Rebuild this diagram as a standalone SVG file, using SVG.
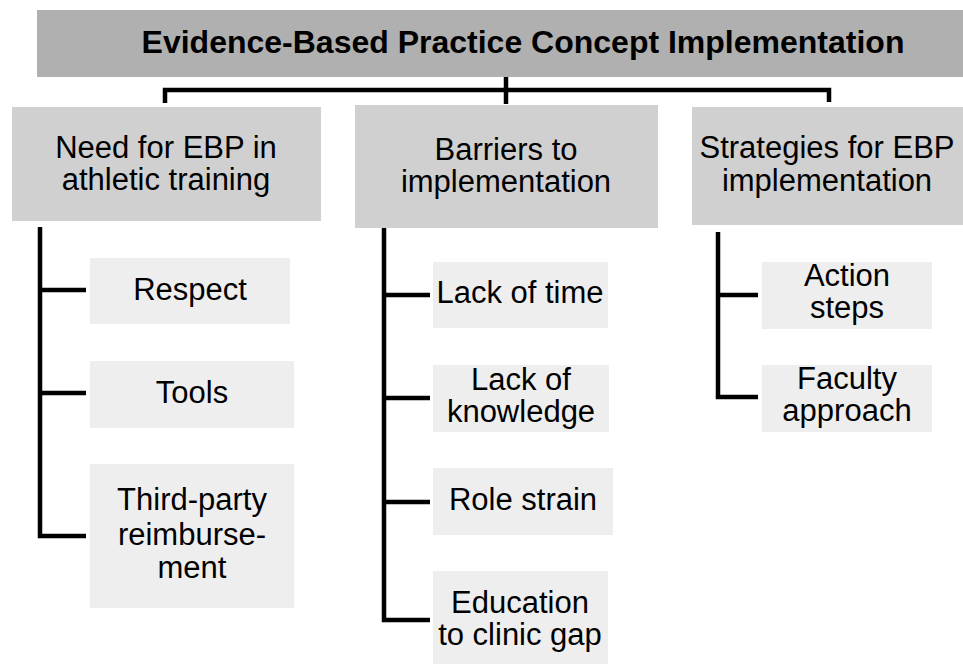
<svg xmlns="http://www.w3.org/2000/svg" width="963" height="664" viewBox="0 0 963 664">
<style>
text{font-family:"Liberation Sans",Arial,sans-serif;fill:#000;text-anchor:middle}
.t{font-size:32px;font-weight:bold}
.b{font-size:31px}
.top{fill:#b0b0b0}
.l1{fill:#d0d0d0}
.l2{fill:#eeeeee}
.c{stroke:#000;stroke-width:4.5;fill:none;stroke-linejoin:miter}
</style>
<rect width="963" height="664" fill="#fff"/>
<g id="connectors">
<path class="c" d="M165,103 V90 H829 V102"/>
<path class="c" d="M506,77 V104"/>
<path class="c" d="M40,227 V536 H86 M40,290 H86 M40,393 H86"/>
<path class="c" d="M384,227 V620 H430 M384,295 H430 M384,398 H430 M384,502 H430"/>
<path class="c" d="M718,232 V397 H758 M718,295 H758"/>
</g>
<g id="title"><rect class="top" x="37" y="10" width="926" height="67"/><text class="t" x="523" y="53">Evidence-Based Practice Concept Implementation</text></g>
<g id="need"><rect class="l1" x="12" y="107" width="309" height="114"/><text class="b" x="166" y="158">Need for EBP in</text><text class="b" x="166" y="190">athletic training</text></g>
<g id="barriers"><rect class="l1" x="355" y="105" width="303" height="123"/><text class="b" x="506" y="160">Barriers to</text><text class="b" x="506" y="192">implementation</text></g>
<g id="strategies"><rect class="l1" x="692" y="107" width="271" height="118"/><text class="b" x="827" y="158">Strategies for EBP</text><text class="b" x="827" y="191">implementation</text></g>
<g id="respect"><rect class="l2" x="90" y="258" width="200" height="66"/><text class="b" x="190" y="300">Respect</text></g>
<g id="tools"><rect class="l2" x="90" y="361" width="204" height="67"/><text class="b" x="192" y="403">Tools</text></g>
<g id="reimbursement"><rect class="l2" x="90" y="464" width="204" height="144"/><text class="b" x="192" y="510">Third-party</text><text class="b" x="192" y="545">reimburse-</text><text class="b" x="192" y="578">ment</text></g>
<g id="time"><rect class="l2" x="433" y="262" width="175" height="66"/><text class="b" x="520" y="303">Lack of time</text></g>
<g id="knowledge"><rect class="l2" x="433" y="365" width="176" height="67"/><text class="b" x="521" y="390">Lack of</text><text class="b" x="521" y="422">knowledge</text></g>
<g id="role"><rect class="l2" x="433" y="468" width="180" height="67"/><text class="b" x="523" y="510">Role strain</text></g>
<g id="gap"><rect class="l2" x="433" y="571" width="175" height="93"/><text class="b" x="520" y="613">Education</text><text class="b" x="520" y="645">to clinic gap</text></g>
<g id="action"><rect class="l2" x="762" y="262" width="170" height="67"/><text class="b" x="847" y="286">Action</text><text class="b" x="847" y="318">steps</text></g>
<g id="faculty"><rect class="l2" x="762" y="365" width="170" height="67"/><text class="b" x="847" y="389">Faculty</text><text class="b" x="847" y="421">approach</text></g>
</svg>
